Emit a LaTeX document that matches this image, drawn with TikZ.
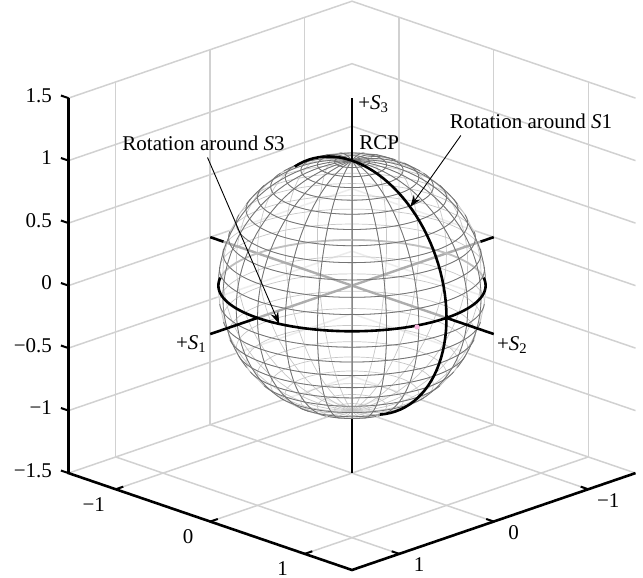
\documentclass[tikz,border=0pt]{standalone}
\usepackage{fontspec}
\setmainfont{Liberation Serif}
\usetikzlibrary{arrows.meta}

\begin{document}
\begin{tikzpicture}[x={(47.25pt,-16.15pt)},y={(-47.25pt,-16.15pt)},z={(0pt,62.5pt)},
 font=\fontsize{10.5}{12}\selectfont,
 wall/.style={black!18,line width=0.75pt},
 bk/.style={black!22,line width=0.35pt},
 fr/.style={black!55,line width=0.4pt},
 inr/.style={black!32,line width=1.2pt},
 ax/.style={black,line width=1.3pt},
 tk/.style={black,line width=1pt},
 ar/.style={-{Stealth[length=6pt,width=4pt]},line width=0.45pt}]
\useasboundingbox (-176pt,-146.2pt) rectangle (145.5pt,142.8pt);
\foreach \t in {-1,0,1}{
  \draw[wall] (-1.5,\t,-1.5) -- (-1.5,\t,1.5);
  \draw[wall] (\t,-1.5,-1.5) -- (\t,-1.5,1.5);
  \draw[wall] (\t,-1.5,-1.5) -- (\t,1.5,-1.5);
  \draw[wall] (-1.5,\t,-1.5) -- (1.5,\t,-1.5);
}
\foreach \h in {-1.5,-1,...,1.5}
  \draw[wall] (-1.5,1.5,\h) -- (-1.5,-1.5,\h) -- (1.5,-1.5,\h);
\fill[white,opacity=0.6] (0,0,0) ellipse [x radius=67.5pt,y radius=66.5pt];
\foreach \p in {-82.5,-75,...,82.5}
  \draw[bk] plot[domain=0:360,samples=73] ({cos(\p)*cos(\x)},{cos(\p)*sin(\x)},{sin(\p)});
\foreach \m in {0,15,...,345}
  \draw[bk] plot[domain=-90:90,samples=37] ({cos(\x)*cos(\m)},{cos(\x)*sin(\m)},{sin(\x)});
\draw[inr] (0,0,-1.064) -- (0,0,1);
\draw[inr] (0,-1.36,0) -- (0,1,0);
\draw[inr] (-1.36,0,0) -- (1,0,0);
\draw[inr,black!25,line width=0.9pt] plot[domain=145:305,samples=41] ({cos(\x)},{sin(\x)},0);
\foreach \p in {-82.5,-75,...,82.5}{
  \pgfmathsetmacro\ang{acos(max(-1,min(1,-0.3654*tan(\p))))}
  \pgfmathsetmacro\lA{45-\ang}\pgfmathsetmacro\hA{45+\ang}
  \ifdim\ang pt>0.5pt
    \draw[fr] plot[domain=\lA:\hA,samples=49] ({cos(\p)*cos(\x)},{cos(\p)*sin(\x)},{sin(\p)});
  \fi
}
\foreach \m in {0,15,...,345}{
  \pgfmathsetmacro\lA{atan2(0.5168,1.4142*cos(\m-45))-90}
  \draw[fr] plot[domain=\lA:90,samples=37] ({cos(\x)*cos(\m)},{cos(\x)*sin(\m)},{sin(\x)});
}
\draw[ax] plot[domain=-55:145,samples=61] ({cos(\x)},{sin(\x)},0);
\draw[ax] plot[domain=-72.7:127.3,samples=61] ({cos(\x)},0,{sin(\x)});
\coordinate (top) at (0,0,1.5);
\coordinate (pole) at (0,0,1);
\coordinate (endA) at (0,1.5,0);
\coordinate (endB) at (1.5,0,0);
\coordinate (tipS3) at ({cos(78)},{sin(78)},0);
\coordinate (tipS1) at ({cos(52)},0,{sin(52)});
\draw[ax] (pole) -- (top);
\draw[ax] (0,0,-1.064) -- (0,0,-1.5);
\draw[ax] (0,1,0) -- (endA);
\draw[ax] (0,-1.36,0) -- (0,-1.5,0);
\draw[ax] (1,0,0) -- (endB);
\draw[ax] (-1.36,0,0) -- (-1.5,0,0);
\fill[magenta!30] (32.5pt,-20.7pt) circle (1.3pt);
\draw[ax] (-1.5,1.5,1.5) -- (-1.5,1.5,-1.5) -- (1.5,1.5,-1.5) -- (1.5,-1.5,-1.5);
\foreach \h/\s in {-1.5/−1.5,-1/−1,-0.5/−0.5,0/0,0.5/0.5,1/1,1.5/1.5}{
  \draw[tk] (-1.5,1.5,\h) -- (-1.58,1.5,\h);
  \node[anchor=east,xshift=-1pt] at (-1.58,1.5,\h) {\s};
}
\foreach \t/\s in {-1/−1,0/0,1/1}{
  \draw[tk] (\t,1.5,-1.5) -- (\t,1.42,-1.5);
  \draw[tk] (1.5,\t,-1.5) -- (1.42,\t,-1.5);
  \node[xshift=-11pt,yshift=-7.5pt] at (\t,1.5,-1.5) {\s};
  \node[xshift=10pt,yshift=-5.5pt] at (1.5,\t,-1.5) {\s};
}
\node[anchor=west,inner sep=0,xshift=3pt,yshift=-3pt] (labS3) at (top) {+\textit{S}\textsubscript{3}};
\node[anchor=west,inner sep=0,xshift=3.5pt,yshift=8.8pt] (rcp) at (pole) {RCP};
\node[anchor=east,inner sep=0,xshift=-1.5pt,yshift=-5pt] (labS1) at (endA) {+\textit{S}\textsubscript{1}};
\node[anchor=west,inner sep=0,xshift=1.5pt,yshift=-5.5pt] (labS2) at (endB) {+\textit{S}\textsubscript{2}};
\node (lblS1) at (89.5pt,82.3pt) {Rotation around \textit{S}1};
\node (lblS3) at (-74.25pt,71.3pt) {Rotation around \textit{S}3};
\draw[ar] ([xshift=9pt]lblS1.south west) -- (tipS1);
\draw[ar] ([xshift=2pt]lblS3.south) -- (tipS3);
\end{tikzpicture}
\end{document}
